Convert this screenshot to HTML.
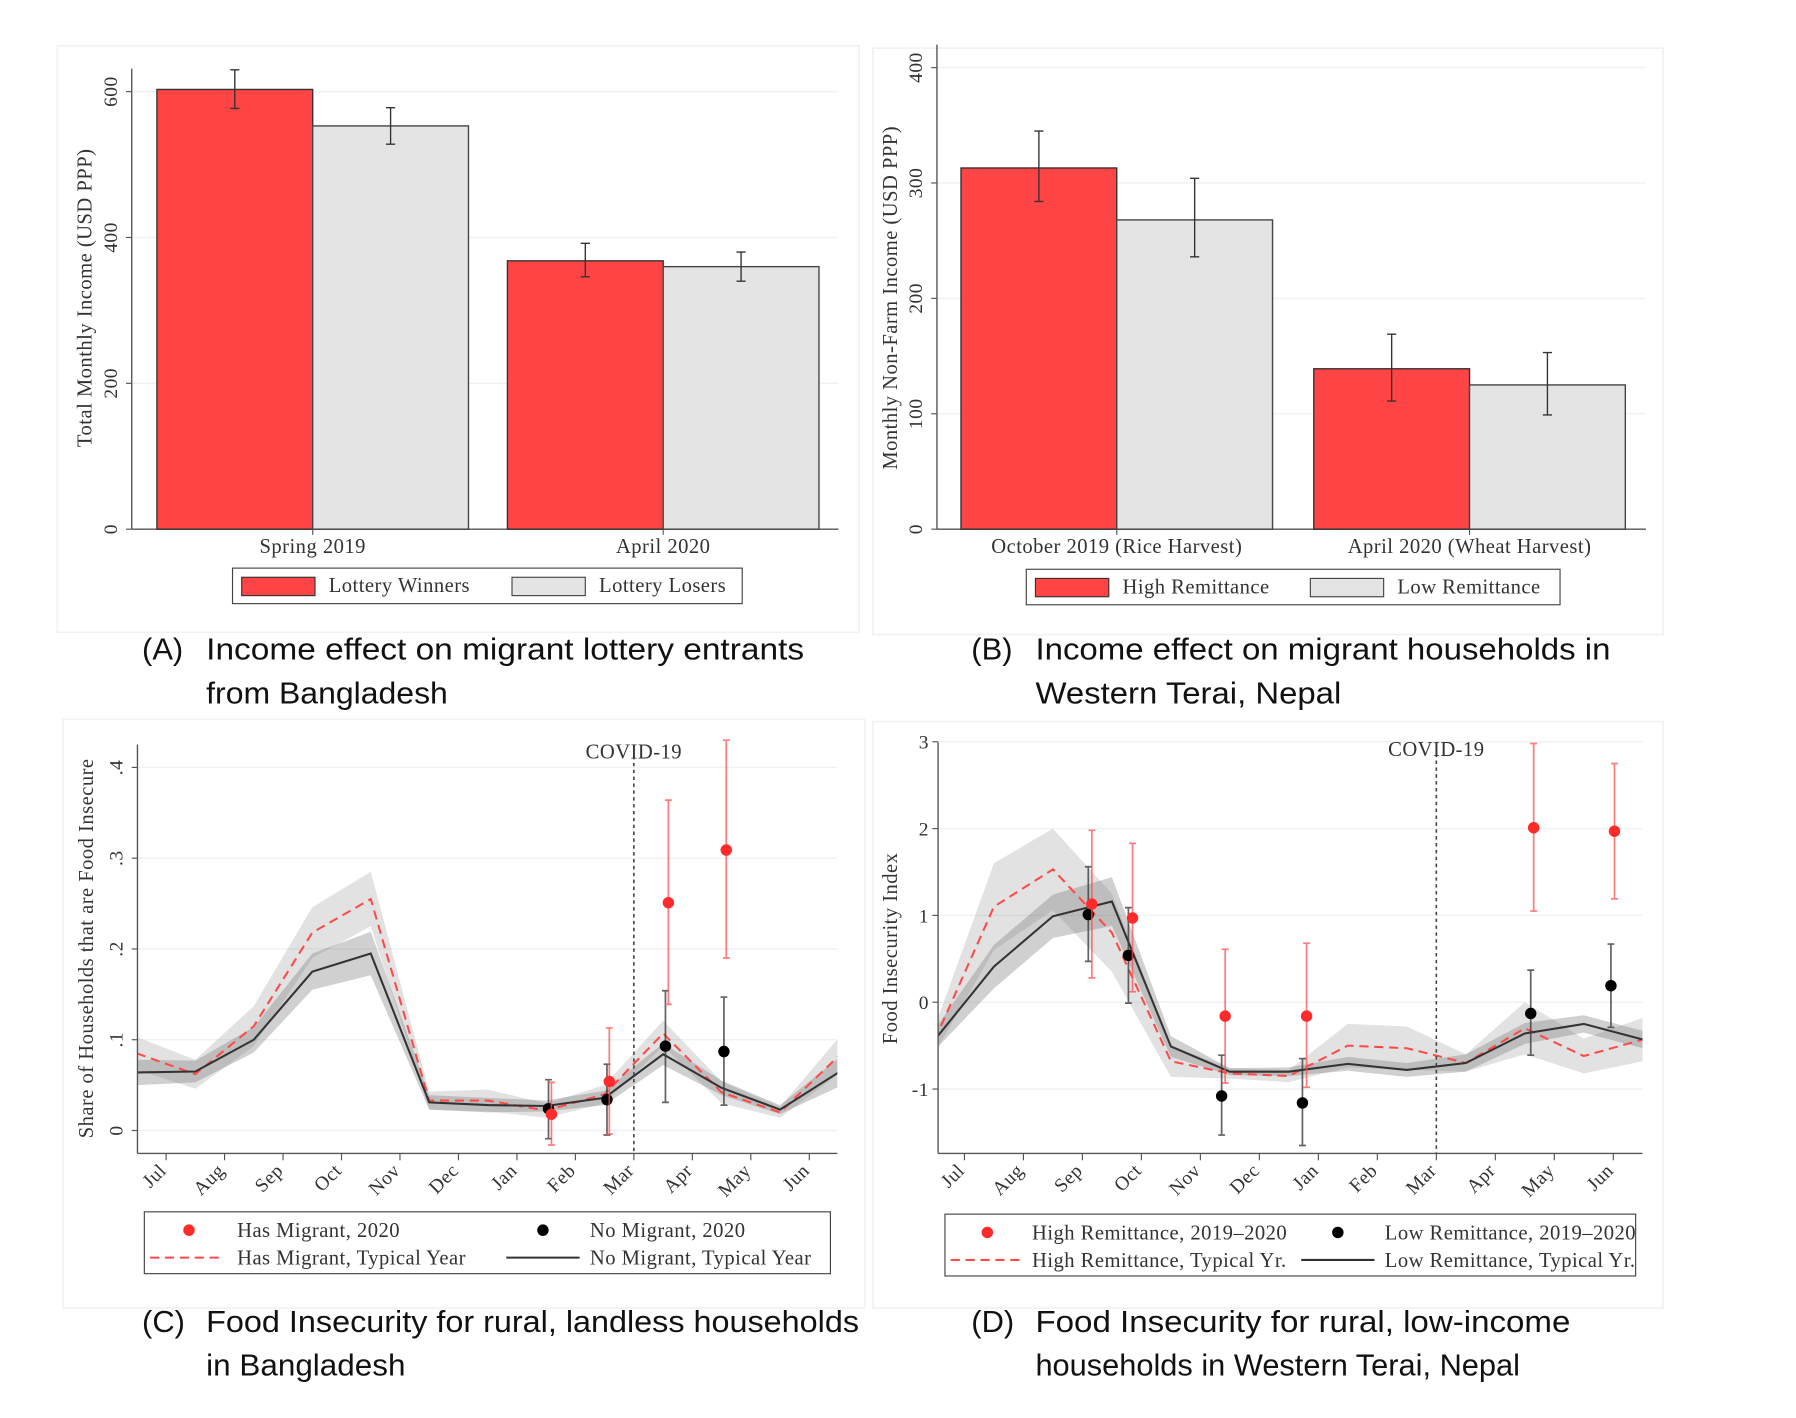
<!DOCTYPE html>
<html><head><meta charset="utf-8"><style>
html,body{margin:0;padding:0;background:#fff;}
svg{display:block;}
.t{font-family:"Liberation Serif",serif;fill:#333;letter-spacing:0.4px;}
.cap{font-family:"Liberation Sans",sans-serif;fill:#111;font-size:27px;}
</style></head><body>
<svg id="fig" width="1796" height="1418" viewBox="0 0 1568 1238" xmlns="http://www.w3.org/2000/svg">
<rect x="0" y="0" width="1568" height="1238" fill="#fff"/>
<g id="root"></g>
<text class="cap" x="124" y="576">(A)</text>
<text class="cap" x="180" y="576" textLength="522" lengthAdjust="spacingAndGlyphs">Income effect on migrant lottery entrants</text>
<text class="cap" x="180" y="614" textLength="211" lengthAdjust="spacingAndGlyphs">from Bangladesh</text>
<text class="cap" x="848" y="576">(B)</text>
<text class="cap" x="904" y="576" textLength="502" lengthAdjust="spacingAndGlyphs">Income effect on migrant households in</text>
<text class="cap" x="904" y="614" textLength="267" lengthAdjust="spacingAndGlyphs">Western Terai, Nepal</text>
<text class="cap" x="124" y="1163">(C)</text>
<text class="cap" x="180" y="1163" textLength="570" lengthAdjust="spacingAndGlyphs">Food Insecurity for rural, landless households</text>
<text class="cap" x="180" y="1201" textLength="174" lengthAdjust="spacingAndGlyphs">in Bangladesh</text>
<text class="cap" x="848" y="1163">(D)</text>
<text class="cap" x="904" y="1163" textLength="467" lengthAdjust="spacingAndGlyphs">Food Insecurity for rural, low-income</text>
<text class="cap" x="904" y="1201" textLength="423" lengthAdjust="spacingAndGlyphs">households in Western Terai, Nepal</text>
</svg>
<script>
// ---- Panel A data ----
const aCategories = ["Spring 2019", "April 2020"];
const aWinners = [603, 368];
const aWinnersLo = [577, 346];
const aWinnersHi = [630, 392];
const aLosers = [553, 360];
const aLosersLo = [528, 340];
const aLosersHi = [578, 380];
const aTicks = [0, 200, 400, 600];
// ---- Panel B data ----
const bCategories = ["October 2019 (Rice Harvest)", "April 2020 (Wheat Harvest)"];
const bHigh = [313, 139];
const bHighLo = [284, 111];
const bHighHi = [345, 169];
const bLow = [268, 125];
const bLowLo = [236, 99];
const bLowHi = [304, 153];
const bTicks = [0, 100, 200, 300, 400];
// ---- Panel C/D shared ----
const months = ["Jul","Aug","Sep","Oct","Nov","Dec","Jan","Feb","Mar","Apr","May","Jun"];
const lineIdx = [-0.5,0.5,1.5,2.5,3.5,4.5,5.5,6.5,7.5,8.5,9.5,10.5,11.5];
// ---- Panel C data ----
const cBlackLine = [0.064,0.065,0.100,0.175,0.195,0.031,0.028,0.027,0.036,0.084,0.047,0.023,0.064];
const cRedLine = [0.085,0.062,0.115,0.218,0.255,0.033,0.033,0.022,0.040,0.107,0.042,0.020,0.082];
const cRedBand = [0.018,0.016,0.022,0.028,0.030,0.010,0.012,0.008,0.010,0.014,0.012,0.006,0.020];
const cBlackBand = [0.014,0.012,0.014,0.020,0.024,0.008,0.008,0.006,0.008,0.012,0.008,0.005,0.016];
const cRedPtIdx = [6.59,7.58,8.59,9.58];
const cRedPt = [0.018,0.054,0.251,0.309];
const cRedLo = [-0.016,-0.004,0.139,0.19];
const cRedHi = [0.053,0.113,0.364,0.43];
const cBlkPtIdx = [6.54,7.54,8.54,9.54];
const cBlkPt = [0.024,0.034,0.093,0.087];
const cBlkLo = [-0.009,-0.005,0.031,0.028];
const cBlkHi = [0.056,0.073,0.154,0.147];
const cTicks = [0,0.1,0.2,0.3,0.4];
const cTickLabels = ["0",".1",".2",".3",".4"];
// ---- Panel D data ----
const dBlackLine = [-0.43,0.41,0.99,1.16,-0.51,-0.80,-0.80,-0.71,-0.78,-0.70,-0.36,-0.25,-0.43];
const dRedLine = [-0.43,1.10,1.53,0.80,-0.68,-0.82,-0.85,-0.50,-0.53,-0.70,-0.30,-0.62,-0.43];
const dRedBand = [0.15,0.50,0.47,0.45,0.18,0.06,0.07,0.25,0.25,0.10,0.30,0.20,0.25];
const dBlackBand = [0.12,0.25,0.25,0.28,0.12,0.04,0.05,0.08,0.08,0.10,0.12,0.10,0.10];
const dRedPtIdx = [2.16,2.85,4.42,5.80,9.65,11.02];
const dRedPt = [1.13,0.97,-0.16,-0.16,2.01,1.97];
const dRedLo = [0.28,0.12,-0.93,-0.98,1.05,1.19];
const dRedHi = [1.98,1.83,0.61,0.68,2.98,2.75];
const dBlkPtIdx = [2.10,2.78,4.36,5.73,9.60,10.96];
const dBlkPt = [1.01,0.54,-1.08,-1.16,-0.13,0.19];
const dBlkLo = [0.47,-0.01,-1.53,-1.65,-0.61,-0.29];
const dBlkHi = [1.56,1.09,-0.61,-0.65,0.37,0.67];
const dTicks = [-1,0,1,2,3];
const dTickLabels = ["-1","0","1","2","3"];

const FS = 18;
const NS = "http://www.w3.org/2000/svg";
const root = document.getElementById("root");
function mk(tag, attrs, parent, txt) {
  const e = document.createElementNS(NS, tag);
  for (const k in attrs) e.setAttribute(k, attrs[k]);
  if (txt !== undefined) e.textContent = txt;
  (parent || root).appendChild(e);
  return e;
}
function grp(name) {
  const g = mk("g", {});
  
  
  return g;
}

[[50,40,700,512,"panel-a-frame"],[762,42,690,512,"panel-b-frame"],[55,628,700,514,"panel-c-frame"],[762,630,690,512,"panel-d-frame"]].forEach(f => {
  const r = mk("rect", {x:f[0], y:f[1], width:f[2], height:f[3], fill:"none", stroke:"#f2f2f2", "stroke-width":1.5});
  
  
});

function barPanel(o) {
  const g = grp(o.name);
  const y = v => o.y0 - (v / o.vmax) * (o.y0 - o.ytop);
  o.ticks.forEach((t, i) => {
    if (t > 0) mk("line", {x1:o.x0, x2:o.x1, y1:y(t), y2:y(t), stroke:"#eef2f2", "stroke-width":1.2}, g);
    mk("line", {x1:o.x0-5, x2:o.x0, y1:y(t), y2:y(t), stroke:"#555", "stroke-width":1}, g);
    const tl = mk("text", {class:"t", x:o.x0-13, y:y(t), "font-size":FS-1, "text-anchor":"middle", transform:`rotate(-90 ${o.x0-13} ${y(t)})`}, g, String(t));
    
    
  });
  mk("line", {x1:o.x0, x2:o.x0, y1:o.ytop-20, y2:o.y0, stroke:"#555", "stroke-width":1.2}, g);
  mk("line", {x1:o.x0, x2:o.x1, y1:o.y0, y2:o.y0, stroke:"#555", "stroke-width":1.2}, g);
  const at = mk("text", {class:"t", x:o.titleX, y:260, "font-size":FS, "text-anchor":"middle", transform:`rotate(-90 ${o.titleX} 260)`}, g, o.title);
  
  
  const bw = o.bw;
  o.cats.forEach((c, i) => {
    const cx = o.catX[i];
    const b1 = mk("rect", {x:cx-bw, y:y(o.s1[i]), width:bw, height:o.y0-y(o.s1[i]), fill:"#fe4445", stroke:"#333", "stroke-width":1.2}, g);
    
    
    const b2 = mk("rect", {x:cx, y:y(o.s2[i]), width:bw, height:o.y0-y(o.s2[i]), fill:"#e4e4e4", stroke:"#444", "stroke-width":1.2}, g);
    
    
    [[cx-bw/2, o.lo1[i], o.hi1[i]], [cx+bw/2, o.lo2[i], o.hi2[i]]].forEach(e => {
      const eb = mk("path", {d:`M${e[0]},${y(e[1])}V${y(e[2])}M${e[0]-4},${y(e[1])}H${e[0]+4}M${e[0]-4},${y(e[2])}H${e[0]+4}`, stroke:"#333", "stroke-width":1.2, fill:"none"}, g);
      
      
    });
    mk("line", {x1:cx, x2:cx, y1:o.y0, y2:o.y0+5, stroke:"#555"}, g);
    const cl = mk("text", {class:"t", x:cx, y:o.y0+21, "font-size":FS, "text-anchor":"middle"}, g, c);
    
    
  });
  const L = o.leg;
  const lb = mk("rect", {x:L[0], y:L[1], width:L[2], height:31, fill:"#fff", stroke:"#444", "stroke-width":1}, g);
  
  
  const s1 = mk("rect", {x:L[0]+8, y:L[1]+8, width:64, height:16, fill:"#fe4445", stroke:"#333"}, g);
  
  
  const t1 = mk("text", {class:"t", x:L[0]+84, y:L[1]+21, "font-size":FS}, g, o.l1);
  
  
  const s2 = mk("rect", {x:L[3], y:L[1]+8, width:64, height:16, fill:"#e4e4e4", stroke:"#444"}, g);
  
  
  const t2 = mk("text", {class:"t", x:L[3]+76, y:L[1]+21, "font-size":FS}, g, o.l2);
  
  
}
barPanel({name:"panel-a", x0:115, x1:732, y0:462, ytop:80, vmax:600, ticks:aTicks, title:"Total Monthly Income (USD PPP)", titleX:80,
  cats:aCategories, catX:[273,579], bw:136, s1:aWinners, lo1:aWinnersLo, hi1:aWinnersHi, s2:aLosers, lo2:aLosersLo, hi2:aLosersHi,
  n1:"lottery-winners", n2:"lottery-losers", l1:"Lottery Winners", l2:"Lottery Losers", leg:[203,496,445,447]});
barPanel({name:"panel-b", x0:818, x1:1437, y0:462, ytop:59, vmax:400, ticks:bTicks, title:"Monthly Non-Farm Income (USD PPP)", titleX:783,
  cats:bCategories, catX:[975,1283], bw:136, s1:bHigh, lo1:bHighLo, hi1:bHighHi, s2:bLow, lo2:bLowLo, hi2:bLowHi,
  n1:"high-remittance", n2:"low-remittance", l1:"High Remittance", l2:"Low Remittance", leg:[896,497,466,1144]});

function linePanel(o) {
  const g = grp(o.name);
  const x = i => o.xJul + i * o.dx;
  const y = v => o.yA - (v - o.vA) * o.py;
  const clip = "clip-" + o.name;
  const cp = mk("clipPath", {id:clip}, g);
  mk("rect", {x:o.x0, y:o.ytop-10, width:o.x1-o.x0, height:o.ybot-o.ytop+10}, cp);
  o.ticks.forEach((t, i) => {
    mk("line", {x1:o.x0, x2:o.x1, y1:y(t), y2:y(t), stroke:"#eef2f2", "stroke-width":1.2}, g);
    mk("line", {x1:o.x0-5, x2:o.x0, y1:y(t), y2:y(t), stroke:"#555"}, g);
    let tl;
    if (o.rotY) tl = mk("text", {class:"t", x:o.x0-13, y:y(t), "font-size":FS-1, "text-anchor":"middle", transform:`rotate(-90 ${o.x0-13} ${y(t)})`}, g, o.tickLabels[i]);
    else tl = mk("text", {class:"t", x:o.x0-8, y:y(t)+6, "font-size":FS-1, "text-anchor":"end"}, g, o.tickLabels[i]);
    
    
  });
  const pg = mk("g", {"clip-path":`url(#${clip})`}, g);
  function band(c, w, fill, name) {
    let d = "";
    lineIdx.forEach((ix, k) => { d += (k ? "L" : "M") + x(ix) + "," + y(c[k] + w[k]); });
    for (let k = lineIdx.length - 1; k >= 0; k--) d += "L" + x(lineIdx[k]) + "," + y(c[k] - w[k]);
    const p = mk("path", {d:d + "Z", fill:fill}, pg);
    
    
  }
  band(o.red, o.redBand, "rgba(150,150,150,0.28)", "band-red-ci");
  band(o.blk, o.blkBand, "rgba(120,120,120,0.35)", "band-black-ci");
  function line(v, stroke, dash, name) {
    const pts = lineIdx.map((ix, k) => x(ix) + "," + y(v[k])).join(" ");
    const p = mk("polyline", {points:pts, fill:"none", stroke:stroke, "stroke-width":1.8, "stroke-dasharray":dash}, pg);
    
    
  }
  line(o.red, "#ff4a4a", "8,5", "line-red-typical");
  line(o.blk, "#333", "none", "line-black-typical");
  const cv = mk("line", {x1:x(8), x2:x(8), y1:o.ytop+10, y2:o.ybot, stroke:"#444", "stroke-width":1.4, "stroke-dasharray":"3,3"}, g);
  
  
  const ct = mk("text", {class:"t", x:x(8), y:o.ytop+12, "font-size":FS, "text-anchor":"middle"}, g, "COVID-19");
  
  
  function pts(ix, v, lo, hi, col, ecol, name) {
    ix.forEach((p, k) => {
      const px = x(p);
      const e = mk("path", {d:`M${px},${y(lo[k])}V${y(hi[k])}M${px-3},${y(lo[k])}H${px+3}M${px-3},${y(hi[k])}H${px+3}`, stroke:ecol, "stroke-width":1.5, fill:"none"}, g);
      
      
      const c = mk("circle", {cx:px, cy:y(v[k]), r:5, fill:col}, g);
      
      
    });
  }
  pts(o.bIdx, o.bPt, o.bLo, o.bHi, "#000", "rgba(60,60,60,0.8)", "black");
  pts(o.rIdx, o.rPt, o.rLo, o.rHi, "#ff2a2a", "rgba(255,80,80,0.75)", "red");
  mk("line", {x1:o.x0, x2:o.x0, y1:o.ytop, y2:o.ybot, stroke:"#555", "stroke-width":1.2}, g);
  mk("line", {x1:o.x0, x2:o.x1, y1:o.ybot, y2:o.ybot, stroke:"#555", "stroke-width":1.2}, g);
  months.forEach((m, i) => {
    mk("line", {x1:x(i), x2:x(i), y1:o.ybot, y2:o.ybot+6, stroke:"#555"}, g);
    const tx = x(i) + 1, ty = o.ybot + 16;
    const t = mk("text", {class:"t", x:tx, y:ty, "font-size":FS-1, "text-anchor":"end", transform:`rotate(-45 ${tx} ${ty})`}, g, m);
    
    
  });
  const at = mk("text", {class:"t", x:o.titleX, y:o.titleY, "font-size":FS, "text-anchor":"middle", transform:`rotate(-90 ${o.titleX} ${o.titleY})`}, g, o.title);
  
  
  const L = o.leg;
  const lb = mk("rect", {x:L[0], y:L[1], width:L[2], height:54, fill:"#fff", stroke:"#444", "stroke-width":1}, g);
  
  
  const e1 = mk("circle", {cx:L[3], cy:L[1]+16, r:5, fill:"#ff2a2a"}, g);
  
  
  const e2 = mk("circle", {cx:L[4], cy:L[1]+16, r:5, fill:"#000"}, g);
  
  
  const e3 = mk("line", {x1:L[0]+5, x2:L[0]+68, y1:L[1]+40, y2:L[1]+40, stroke:"#ff4a4a", "stroke-width":1.8, "stroke-dasharray":"8,5"}, g);
  
  
  const e4 = mk("line", {x1:L[4]-32, x2:L[4]+32, y1:L[1]+40, y2:L[1]+40, stroke:"#333", "stroke-width":1.8}, g);
  
  
  [[L[5], 22, o.labels[0]], [L[6], 22, o.labels[1]], [L[5], 46, o.labels[2]], [L[6], 46, o.labels[3]]].forEach(q => {
    const t = mk("text", {class:"t", x:q[0], y:L[1]+q[1], "font-size":FS}, g, q[2]);
    
    
  });
}
linePanel({name:"panel-c", x0:120, x1:731, ytop:650, ybot:1007, xJul:145, dx:51.05, yA:987, vA:0, py:792.5,
  ticks:cTicks, tickLabels:cTickLabels, rotY:true, red:cRedLine, blk:cBlackLine, redBand:cRedBand, blkBand:cBlackBand,
  rIdx:cRedPtIdx, rPt:cRedPt, rLo:cRedLo, rHi:cRedHi, bIdx:cBlkPtIdx, bPt:cBlkPt, bLo:cBlkLo, bHi:cBlkHi,
  title:"Share of Households that are Food Insecure", titleX:81, titleY:828,
  leg:[126,1058,599,165,474,207,515], labels:["Has Migrant, 2020","No Migrant, 2020","Has Migrant, Typical Year","No Migrant, Typical Year"]});
linePanel({name:"panel-d", x0:819, x1:1434, ytop:648, ybot:1007, xJul:842, dx:51.5, yA:875, vA:0, py:75.8,
  ticks:dTicks, tickLabels:dTickLabels, rotY:false, red:dRedLine, blk:dBlackLine, redBand:dRedBand, blkBand:dBlackBand,
  rIdx:dRedPtIdx, rPt:dRedPt, rLo:dRedLo, rHi:dRedHi, bIdx:dBlkPtIdx, bPt:dBlkPt, bLo:dBlkLo, bHi:dBlkHi,
  title:"Food Insecurity Index", titleX:783, titleY:828,
  leg:[825,1060,603,862,1168,901,1209], labels:["High Remittance, 2019\u20132020","Low Remittance, 2019\u20132020","High Remittance, Typical Yr.","Low Remittance, Typical Yr."]});
</script>
</body></html>
